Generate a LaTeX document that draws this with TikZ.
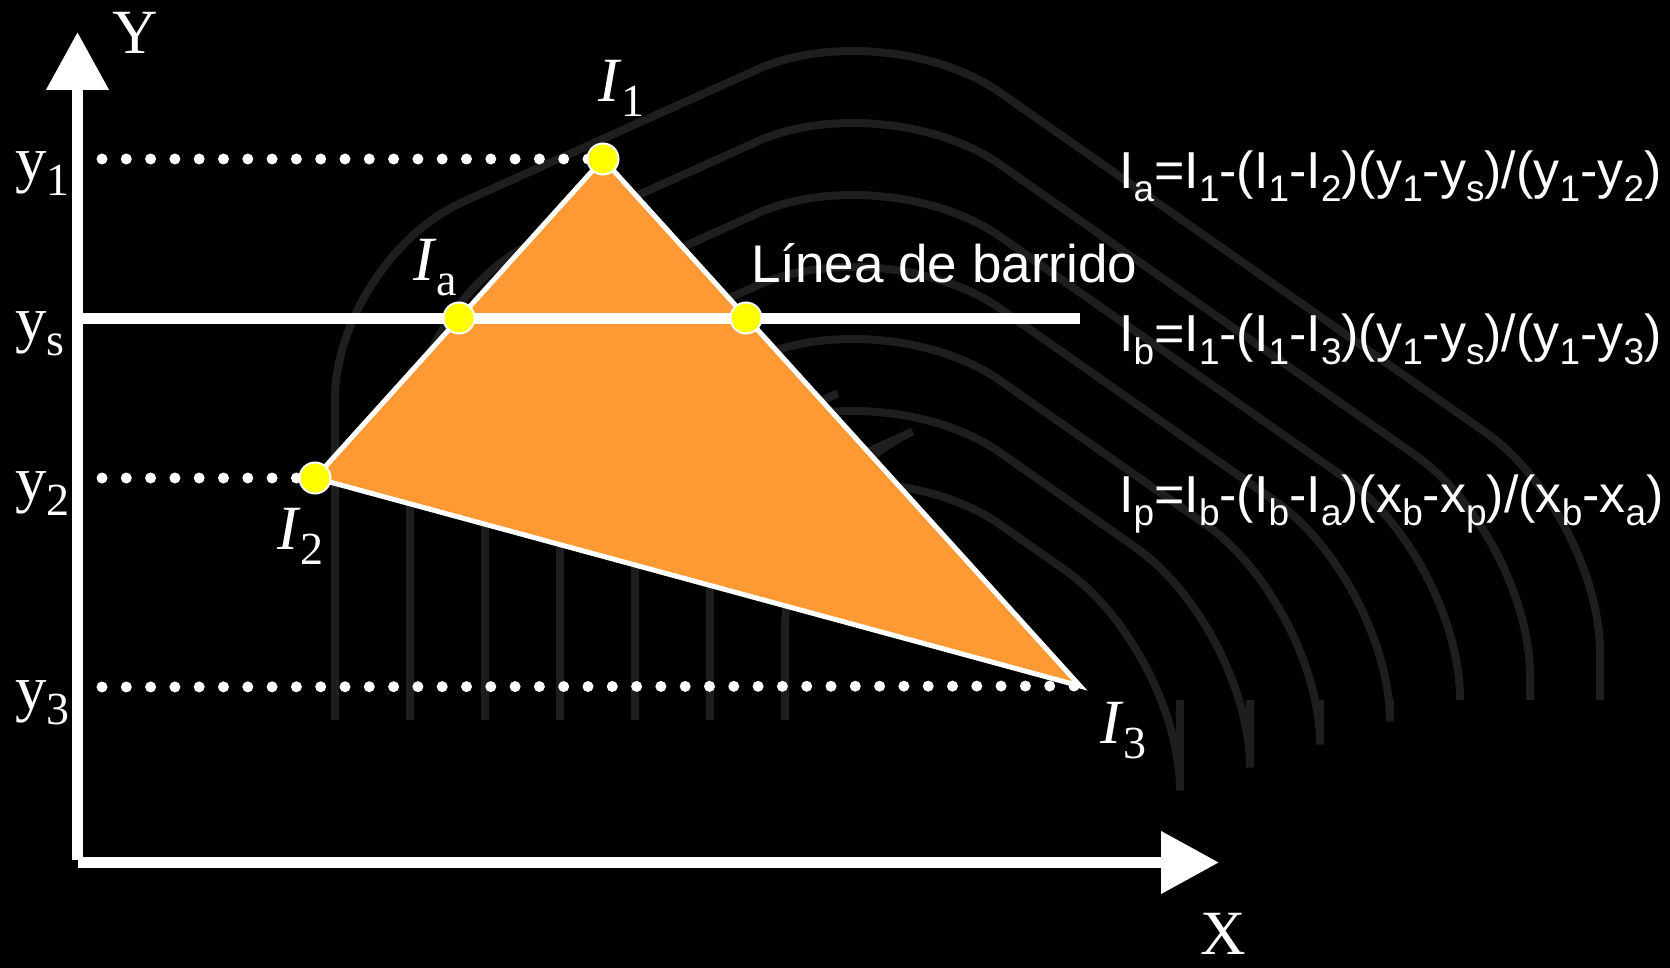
\documentclass[tikz,border=0pt]{standalone}
\usepackage{fontspec}
\setmainfont{Liberation Serif}
\newfontfamily\arialfam{Liberation Sans}
\usetikzlibrary{arrows.meta}
\definecolor{trifill}{RGB}{255,153,51}
\definecolor{dotyellow}{RGB}{255,255,0}
\definecolor{ghost}{RGB}{30,30,30}
\newcommand\lsb[1]{\raisebox{-15pt}{\fontsize{46}{46}\selectfont #1}}
\newcommand\fsb[1]{\raisebox{-13pt}{\fontsize{37}{37}\selectfont #1}}
\begin{document}
\begin{tikzpicture}[x=1pt,y=-1pt,
  lbl/.style={text=white, inner sep=0pt, anchor=base west, font=\fontsize{63}{63}\selectfont},
  frm/.style={text=white, inner sep=0pt, anchor=base west, font=\arialfam\fontsize{52}{52}\selectfont},
  axisline/.style={white, line width=11pt, -{Triangle[length=58pt,width=60pt]}},
  dotline/.style={white, line width=11pt, line cap=round, dash pattern=on 0pt off 24.3pt},
  ydot/.style={circle, fill=dotyellow, draw=white, line width=2pt, minimum size=31pt, inner sep=0pt},
  ghostarc/.style={ghost, line width=8pt, rounded corners=140pt}
]
\useasboundingbox (0,0) rectangle (1670,968);
\fill[black] (0,0) rectangle (1670,968);

% faint background arches
\foreach \k in {0,...,6}{
  \pgfmathsetmacro\xL{335+75*\k}
  \pgfmathsetmacro\xR{1600-70*\k}
  \pgfmathsetmacro\yT{12+72*\k}
  \pgfmathsetmacro\yAL{\yT+0.45*(885-\xL)}
  \pgfmathsetmacro\yAR{\yT+0.7*(\xR-885)}
  \draw[ghostarc] (\xL,720) -- (\xL,\yAL) -- (885,\yT) -- (\xR,\yAR) -- (\xR,700);
}

% coordinates
\coordinate (O) at (77.5,860);
\coordinate (Ytip) at (77.5,32);
\coordinate (Xs) at (78,862.5);
\coordinate (Xtip) at (1219,862.5);
\coordinate (v1) at (603,159);
\coordinate (v2) at (315,478);
\coordinate (v3) at (1080,686);
\coordinate (sa) at (459,318);
\coordinate (sb) at (746,318);
\coordinate (sL) at (77.5,318);
\coordinate (sR) at (1080,318);
\coordinate (d1) at (102,159);
\coordinate (d2) at (102,478);
\coordinate (d3) at (102,687);

% axes
\draw[axisline] (O) -- (Ytip);
\draw[axisline] (Xs) -- (Xtip);

% triangle
\filldraw[fill=trifill, draw=white, line width=5pt, line join=miter] (v1) -- (v2) -- (v3) -- cycle;

% sweep line
\draw[white, line width=11pt] (sL) -- (sR);

% dotted guide lines
\draw[dotline] (d1) -- (v1);
\draw[dotline] (d2) -- (v2);
\draw[dotline] (d3) -- (v3);

% yellow points
\node[ydot] (p1) at (v1) {};
\node[ydot] (p2) at (v2) {};
\node[ydot] (pa) at (sa) {};
\node[ydot] (pb) at (sb) {};

% axis labels
\node[lbl] (Ylab) at (112,54) {Y};
\node[lbl] (Xlab) at (1200,954) {X};
\node[lbl] (ly1) at (15,181) {y\lsb{1}};
\node[lbl] (lys) at (15,340) {y\lsb{s}};
\node[lbl] (ly2) at (15,500) {y\lsb{2}};
\node[lbl] (ly3) at (15,709) {y\lsb{3}};

% point labels
\node[lbl] (lI1) at (598,102) {\textit{I}\lsb{1}};
\node[lbl] (lIa) at (413,280) {\textit{I}\lsb{a}};
\node[lbl] (lI2) at (277,549) {\textit{I}\lsb{2}};
\node[lbl] (lI3) at (1100,743) {\textit{I}\lsb{3}};

% sweep line label
\node[frm, font=\arialfam\fontsize{53}{53}\selectfont] (sweep) at (751,283) {Línea de barrido};

% formulas
\node[frm] (fa) at (1119,189) {I\fsb{a}=I\fsb{1}-(I\fsb{1}-I\fsb{2})(y\fsb{1}-y\fsb{s})/(y\fsb{1}-y\fsb{2})};
\node[frm] (fb) at (1119,351) {I\fsb{b}=I\fsb{1}-(I\fsb{1}-I\fsb{3})(y\fsb{1}-y\fsb{s})/(y\fsb{1}-y\fsb{3})};
\node[frm] (fp) at (1119,512) {I\fsb{p}=I\fsb{b}-(I\fsb{b}-I\fsb{a})(x\fsb{b}-x\fsb{p})/(x\fsb{b}-x\fsb{a})};
\end{tikzpicture}
\end{document}
